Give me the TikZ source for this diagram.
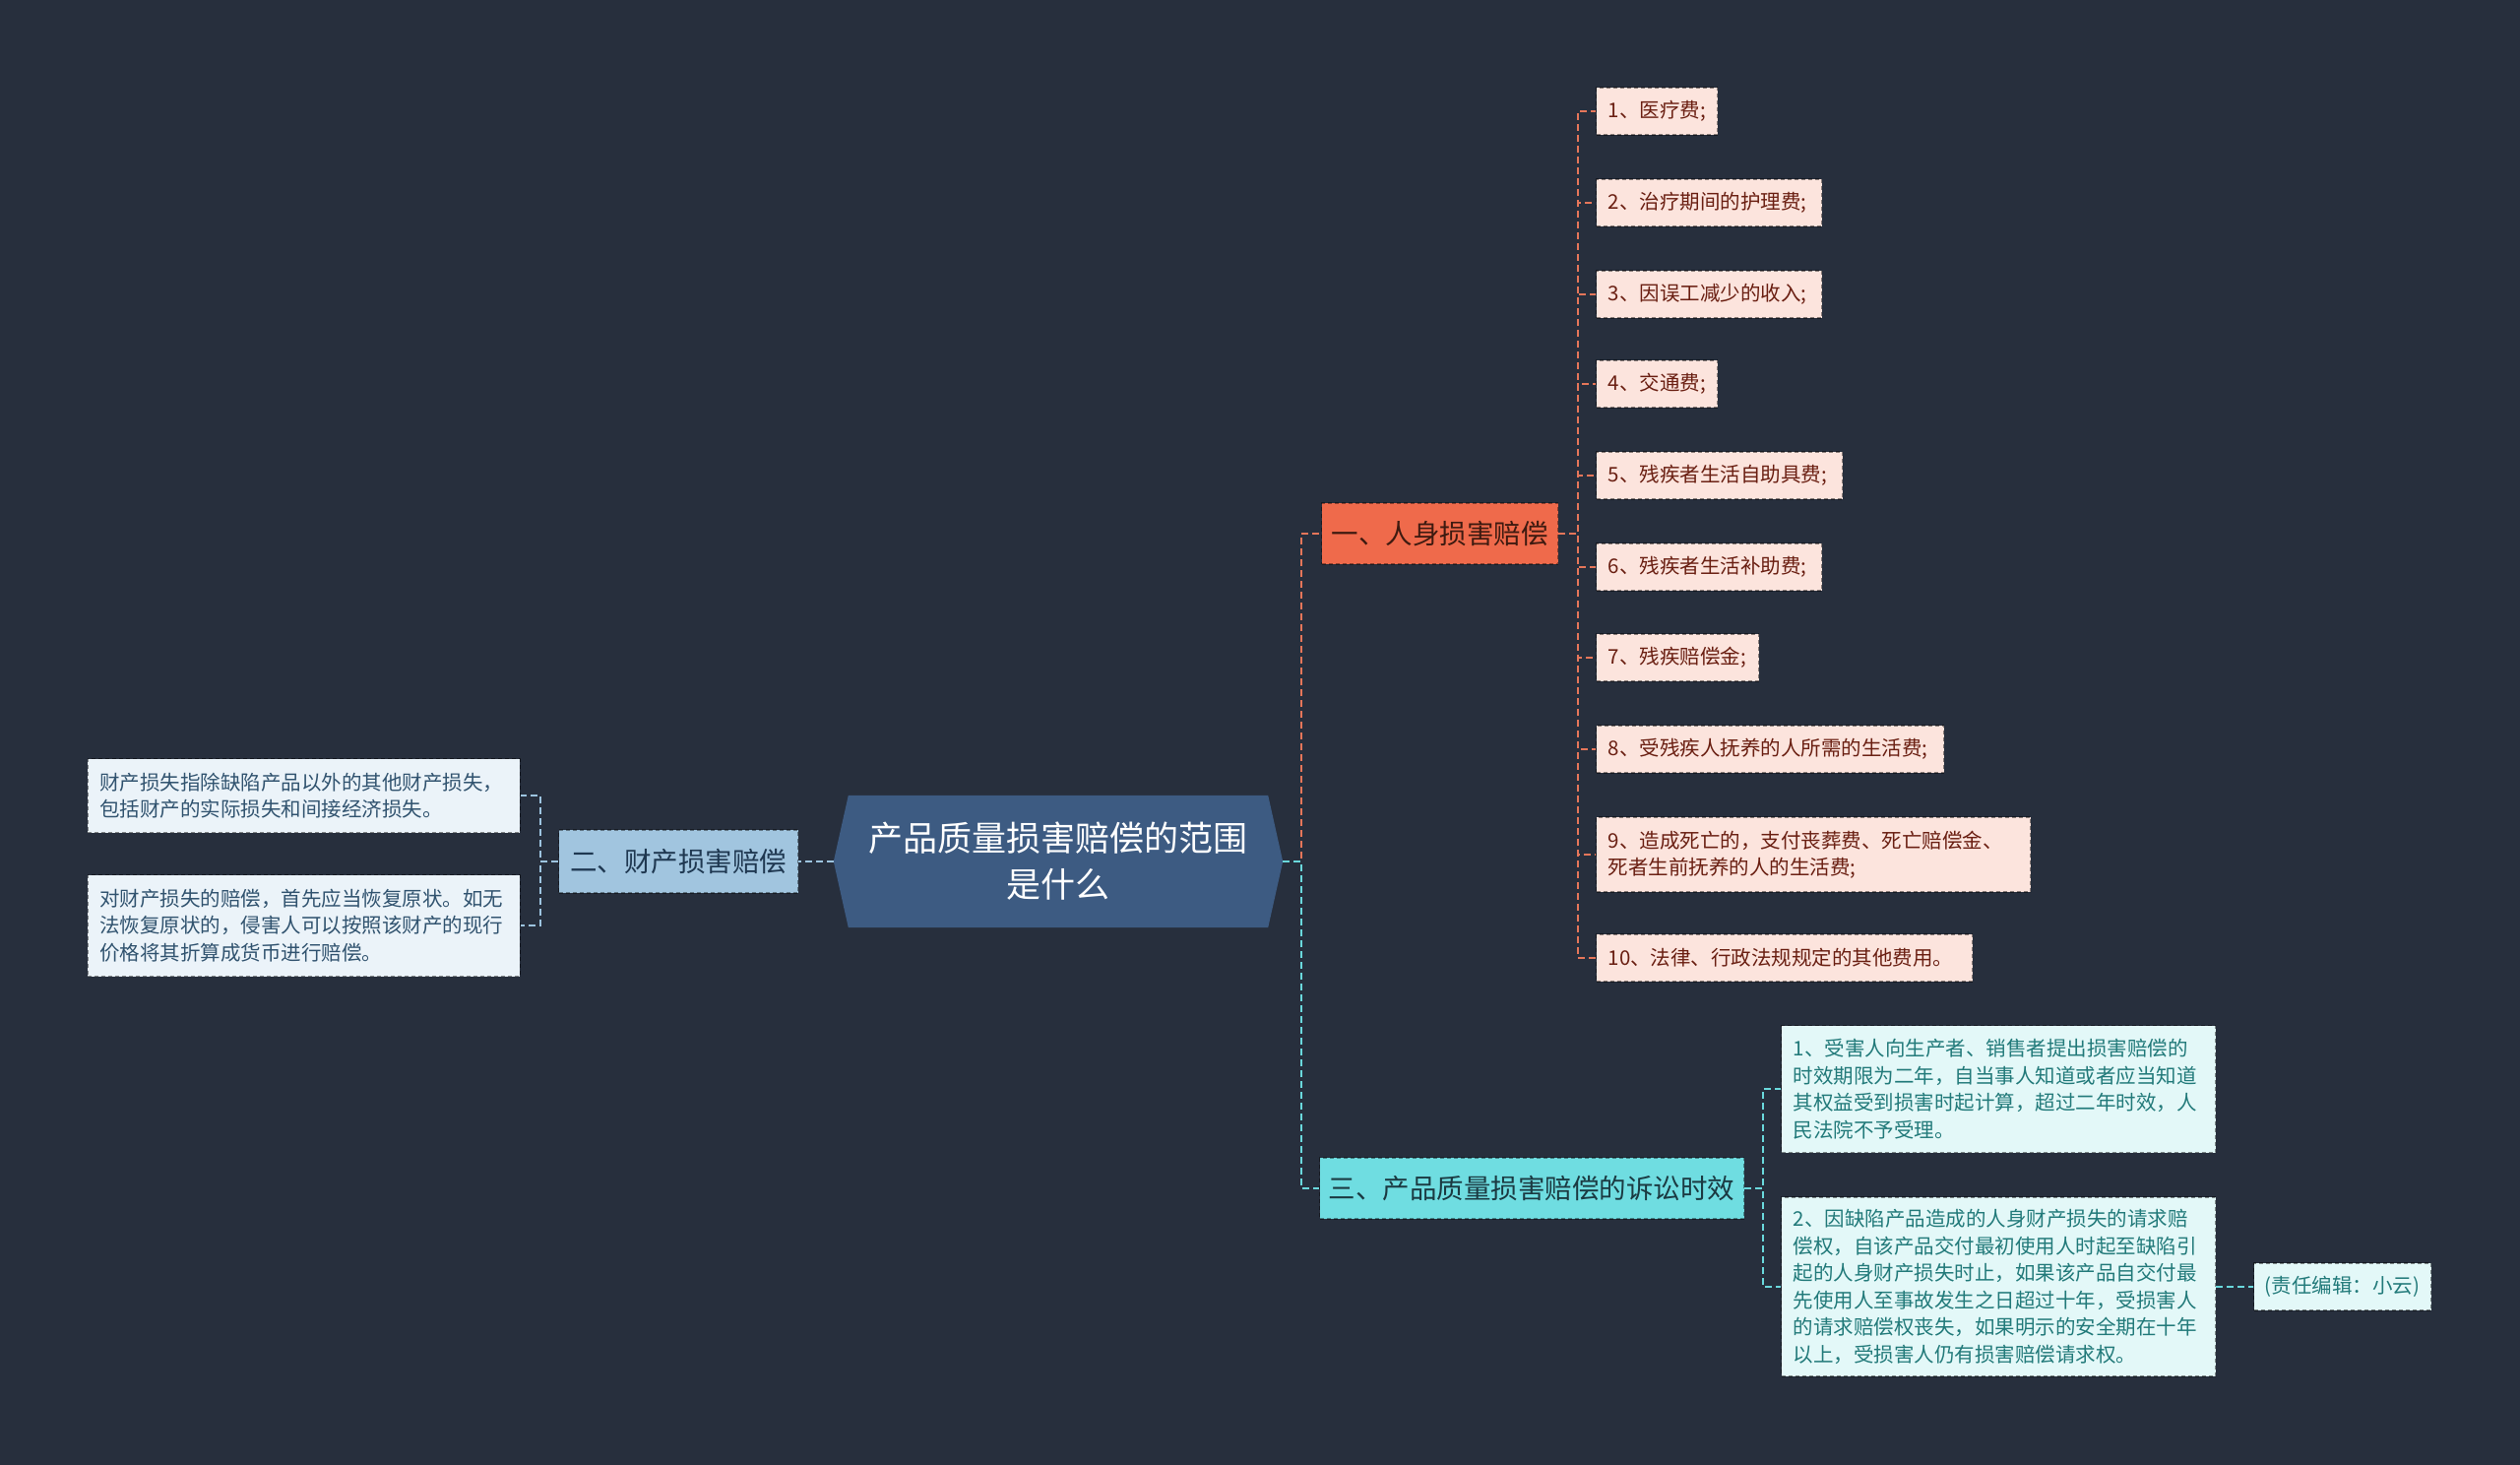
\documentclass[tikz,border=0pt]{standalone}
\usepackage{fontspec}
\setmainfont{Noto Sans CJK SC}
\pgfdeclarelayer{back}
\pgfdeclarelayer{bg}
\pgfsetlayers{back,bg,main}
\definecolor{bgc}{HTML}{272F3D}
\definecolor{cfill}{HTML}{3D5B82}
\definecolor{orfill}{HTML}{EF6A4B}
\definecolor{ortext}{HTML}{3E1A10}
\definecolor{orline}{HTML}{E5765A}
\definecolor{pkfill}{HTML}{FCE4DD}
\definecolor{pktext}{HTML}{6A1F12}
\definecolor{blfill}{HTML}{A1C5DF}
\definecolor{bltext}{HTML}{1F3851}
\definecolor{blline}{HTML}{9DC4E0}
\definecolor{lbfill}{HTML}{EBF3F9}
\definecolor{lbtext}{HTML}{31536F}
\definecolor{cyfill}{HTML}{6FDDE1}
\definecolor{cytext}{HTML}{1B3A42}
\definecolor{cyline}{HTML}{6AD8DC}
\definecolor{lcfill}{HTML}{E3F8F8}
\definecolor{lctext}{HTML}{227A7A}
\tikzset{
  centralbox/.style={minimum width=456pt, minimum height=134pt, inner sep=0pt, align=center, text=white, font=\fontsize{35}{47}\selectfont},
  lonebox/.style={draw=black, draw opacity=0.4, dash pattern=on 4pt off 3pt, line width=1.3pt, minimum height=62pt, inner sep=3pt, font=\fontsize{27.5}{34}\selectfont},
  leafbox/.style={draw=black, draw opacity=0.45, dash pattern=on 4pt off 3pt, line width=1.3pt, align=left, inner xsep=12pt, inner ysep=0pt, font=\fontsize{20.5}{27.5}\selectfont},
  leafA/.style={leafbox, fill=pkfill, text=pktext, anchor=west},
  leafB/.style={leafbox, fill=lbfill, text=lbtext, anchor=east},
  leafC/.style={leafbox, fill=lcfill, text=lctext, anchor=west},
  connline/.style={line width=2.4pt, dash pattern=on 7pt off 4pt},
  connA/.style={connline, draw=orline},
  connB/.style={connline, draw=blline},
  connC/.style={connline, draw=cyline},
}
\begin{document}
\begin{tikzpicture}[x=1pt,y=-1pt]
\begin{pgfonlayer}{back}
\fill[bgc] (0,0) rectangle (2560,1488);
\end{pgfonlayer}
\useasboundingbox (0,0) rectangle (2560,1488);

% central
\node[centralbox] (c) at (1075,875) {产品质量损害赔偿的范围\\是什么};
\begin{pgfonlayer}{bg}
\fill[cfill] (c.west) -- ([xshift=15pt]c.north west) -- ([xshift=-15pt]c.north east) -- (c.east) -- ([xshift=-15pt]c.south east) -- ([xshift=15pt]c.south west) -- cycle;
\end{pgfonlayer}

% level one
\node[lonebox, fill=orfill, text=ortext, minimum width=240pt, anchor=west] (p1) at (1342,542) {一、人身损害赔偿};
\node[lonebox, fill=blfill, text=bltext, minimum width=243pt, minimum height=64pt, anchor=west] (p2) at (567,875) {二、财产损害赔偿};
\node[lonebox, fill=cyfill, text=cytext, minimum width=431pt, anchor=west] (p3) at (1340,1207) {三、产品质量损害赔偿的诉讼时效};

% leaves of p1
\node[leafA, text width=99pt, minimum height=48pt] (a1) at (1621,113) {1、医疗费;};
\node[leafA, text width=205pt, minimum height=48pt] (a2) at (1621,206) {2、治疗期间的护理费;};
\node[leafA, text width=205pt, minimum height=48pt] (a3) at (1621,299) {3、因误工减少的收入;};
\node[leafA, text width=99pt, minimum height=48pt] (a4) at (1621,390) {4、交通费;};
\node[leafA, text width=226pt, minimum height=48pt] (a5) at (1621,483) {5、残疾者生活自助具费;};
\node[leafA, text width=205pt, minimum height=48pt] (a6) at (1621,576) {6、残疾者生活补助费;};
\node[leafA, text width=141pt, minimum height=48pt] (a7) at (1621,668) {7、残疾赔偿金;};
\node[leafA, text width=329pt, minimum height=48pt] (a8) at (1621,761) {8、受残疾人抚养的人所需的生活费;};
\node[leafA, text width=417pt, minimum height=76pt] (a9) at (1621,868) {9、造成死亡的，支付丧葬费、死亡赔偿金、\\死者生前抚养的人的生活费;};
\node[leafA, text width=358pt, minimum height=48pt] (a10) at (1621,973) {10、法律、行政法规规定的其他费用。};

% leaves of p2
\node[leafB, text width=415pt, minimum height=75pt] (b1) at (529,808) {财产损失指除缺陷产品以外的其他财产损失，\\包括财产的实际损失和间接经济损失。};
\node[leafB, text width=415pt, minimum height=103pt] (b2) at (529,940) {对财产损失的赔偿，首先应当恢复原状。如无\\法恢复原状的，侵害人可以按照该财产的现行\\价格将其折算成货币进行赔偿。};

% leaves of p3
\node[leafC, text width=417pt, minimum height=129pt] (d1) at (1809,1106) {1、受害人向生产者、销售者提出损害赔偿的\\时效期限为二年，自当事人知道或者应当知道\\其权益受到损害时起计算，超过二年时效，人\\民法院不予受理。};
\node[leafC, text width=417pt, minimum height=182pt] (d2) at (1809,1307) {2、因缺陷产品造成的人身财产损失的请求赔\\偿权，自该产品交付最初使用人时起至缺陷引\\起的人身财产损失时止，如果该产品自交付最\\先使用人至事故发生之日超过十年，受损害人\\的请求赔偿权丧失，如果明示的安全期在十年\\以上，受损害人仍有损害赔偿请求权。};
\node[leafC, align=center, minimum width=180pt, minimum height=48pt, inner xsep=6pt] (ed) at (2289,1307) {(责任编辑：小云)};

% connectors
\draw[connA] (c.east) -| ([xshift=-20pt]p1.west) -- (p1.west);
\draw[connC] (c.east) -| ([xshift=-18pt]p3.west) -- (p3.west);
\draw[connB] (c.west) -- (p2.east);
\foreach \n in {a1,a2,a3,a4,a5,a6,a7,a8,a9,a10}{
  \draw[connA] (p1.east) -| ([xshift=-18pt]\n.west) -- (\n.west);
}
\foreach \n in {b1,b2}{
  \draw[connB] (p2.west) -| ([xshift=20pt]\n.east) -- (\n.east);
}
\foreach \n in {d1,d2}{
  \draw[connC] (p3.east) -| ([xshift=-18pt]\n.west) -- (\n.west);
}
\draw[connC] (d2.east) -- (ed.west);
\end{tikzpicture}
\end{document}
